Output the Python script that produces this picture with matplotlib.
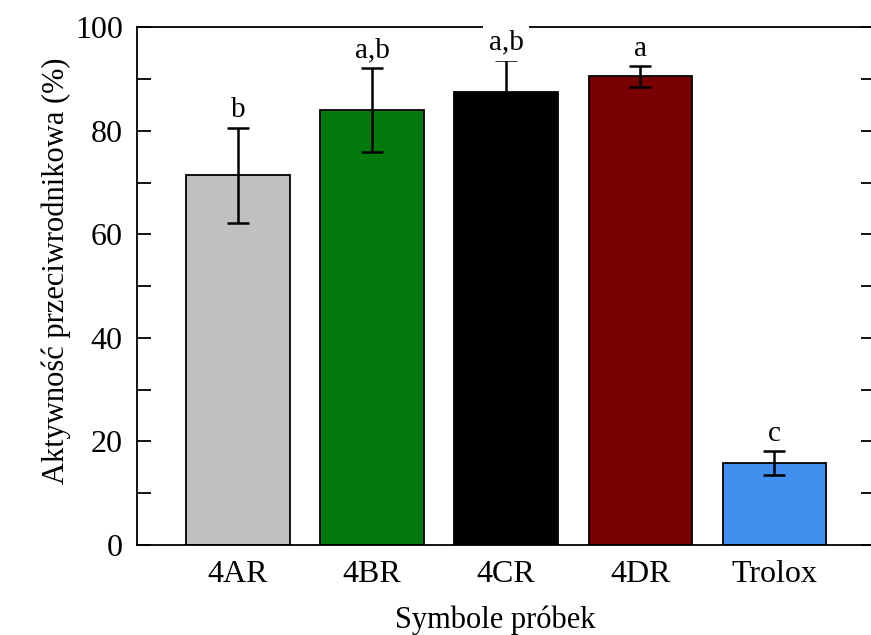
import matplotlib.pyplot as plt
from matplotlib.ticker import MultipleLocator

# antioxidant activity of the samples vs. Trolox
samples = ["4AR", "4BR", "4CR", "4DR", "Trolox"]
activity = [71.4, 84.0, 87.5, 90.5, 15.8]
errors = [9.2, 8.1, 6.2, 2.0, 2.3]
groups = ["b", "a,b", "a,b", "a", "c"]
colors = ["#c0c0c0", "#057a0c", "#000000", "#780000", "#4190ef"]

plt.rcParams["font.family"] = ["Liberation Serif", "DejaVu Serif"]

fig = plt.figure(figsize=(8.71, 6.35), dpi=100)
ax = fig.add_axes([0.157, 0.142, 0.848, 0.815])

x = list(range(len(samples)))
ax.bar(x, activity, width=0.77, color=colors, edgecolor="black", linewidth=1.3,
       yerr=errors, capsize=8, error_kw={"elinewidth": 1.8, "capthick": 1.8, "ecolor": "black"},
       zorder=2)

# letters marking homogeneous groups
for xi, v, e, g in zip(x, activity, errors, groups):
    box = None
    if xi == 2:
        # this label sits on the frame, so give it a white background
        box = dict(facecolor="white", edgecolor="none", pad=4)
    ax.annotate(g, (xi, v + e), xytext=(0, 7.5), textcoords="offset points",
                ha="center", va="baseline", fontsize=21, zorder=5, bbox=box,
                annotation_clip=False)

ax.set_xlim(-0.754, 4.753)
ax.set_ylim(0, 100)
ax.yaxis.set_major_locator(MultipleLocator(20))
ax.yaxis.set_minor_locator(MultipleLocator(10))
ax.tick_params(axis="y", which="both", direction="in", length=10, width=1.3,
               right=True, labelsize=23, pad=10)
ax.tick_params(axis="x", length=0, labelsize=23, pad=11)
ax.set_xticks(x)
ax.set_xticklabels(samples)

for s in ax.spines.values():
    s.set_linewidth(1.3)

ax.set_ylabel("Aktywność przeciwrodnikowa (%)", fontsize=22, labelpad=3)
ax.set_xlabel("Symbole próbek", fontsize=22, labelpad=12)
ax.xaxis.label.set_x(0.485)
ax.yaxis.label.set_y(0.53)

fig.savefig("out.png", dpi=100)
